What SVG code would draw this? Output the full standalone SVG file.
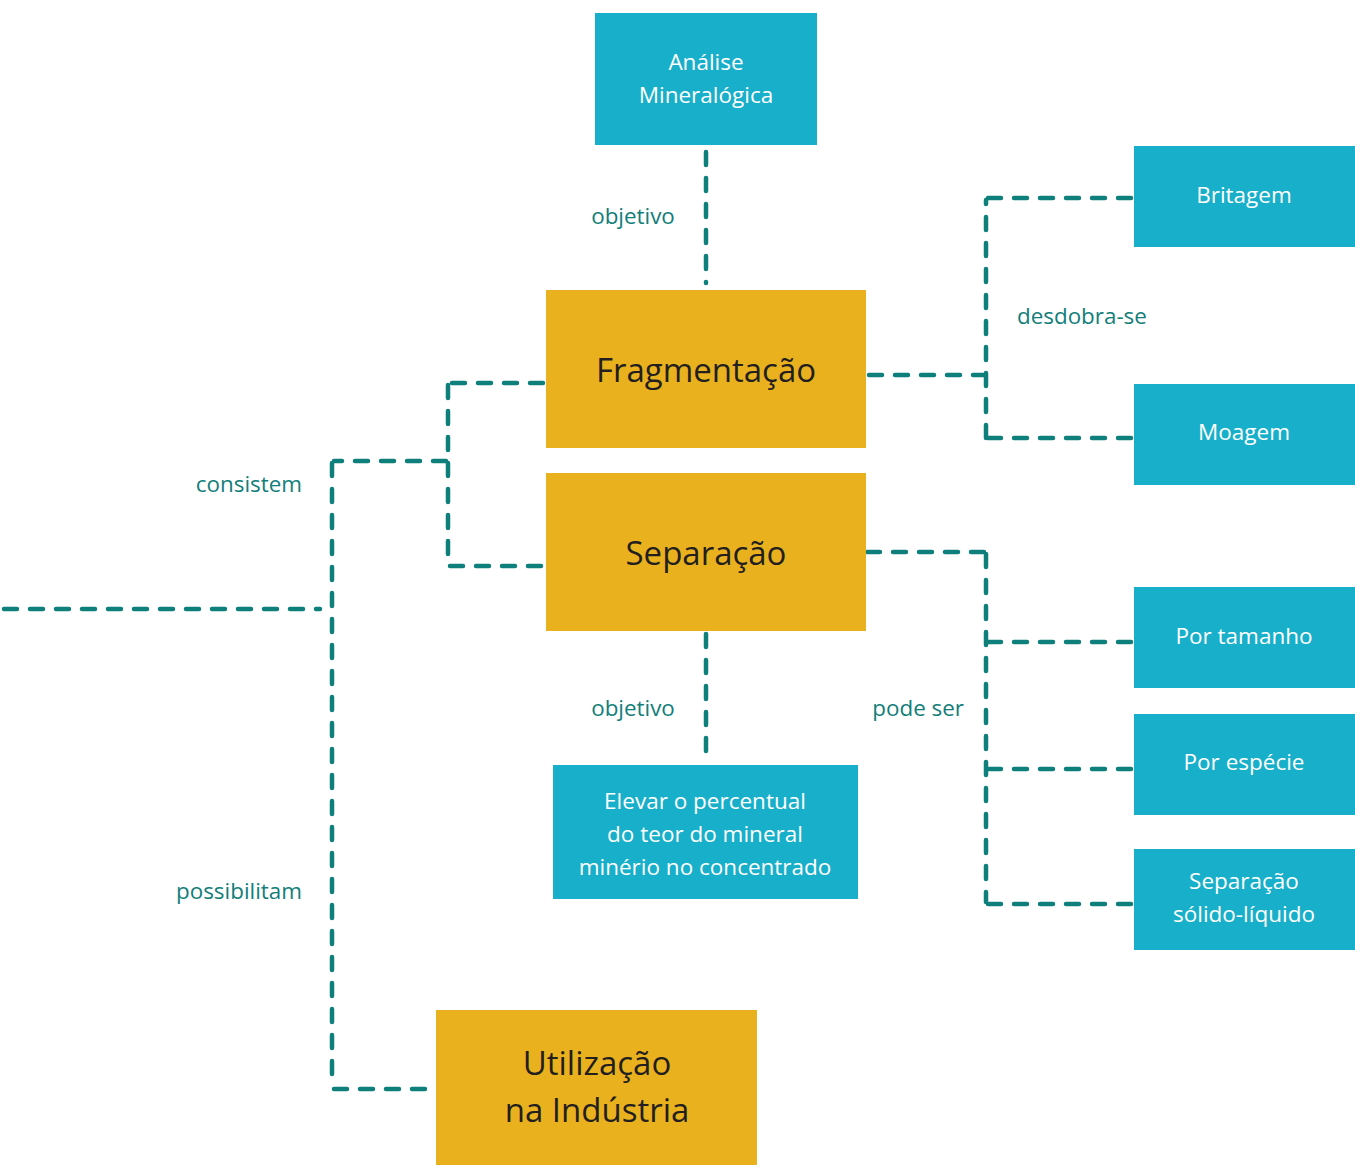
<svg xmlns="http://www.w3.org/2000/svg" width="1355" height="1165" viewBox="0 0 1355 1165">
<style>
.b{fill:#17afc9}
.g{fill:#eab11f}
.tw{font-family:"Open Sans","Noto Sans",sans-serif;font-size:22.5px;fill:#ffffff;text-anchor:middle;dominant-baseline:central}
.tk{font-family:"Open Sans","Noto Sans",sans-serif;font-size:33px;fill:#231f20;text-anchor:middle;dominant-baseline:central}
.lb{font-family:"Open Sans","Noto Sans",sans-serif;font-size:22.4px;fill:#127e7a;dominant-baseline:central}
.c{fill:none;stroke:#0e7f7a;stroke-width:4.5;stroke-linecap:round;stroke-dasharray:13 13}
</style>
<rect width="1355" height="1165" fill="#ffffff"/>
<g id="connectors">
<path class="c" d="M706,152 V283"/>
<path class="c" d="M869,375 H984"/>
<path class="c" d="M986,438 V200"/>
<path class="c" d="M988,198 H1132"/>
<path class="c" d="M988,438 H1132"/>
<path class="c" d="M543,383 H450 M448,385 V564 M450,566 H543"/>
<path class="c" d="M446,461 H334 M332,463 V1087 M334,1089 H434"/>
<path class="c" d="M4,609 H320"/>
<path class="c" d="M867,552 H984 M986,554 V902"/>
<path class="c" d="M988,642 H1132 M988,769 H1132 M988,904 H1132"/>
<path class="c" d="M706,634 V762"/>
</g>
<g id="labels">
<text class="lb" x="633" y="215" text-anchor="middle">objetivo</text>
<text class="lb" x="1017" y="315">desdobra-se</text>
<text class="lb" x="302" y="483" text-anchor="end">consistem</text>
<text class="lb" x="302" y="890" text-anchor="end">possibilitam</text>
<text class="lb" x="633" y="707" text-anchor="middle">objetivo</text>
<text class="lb" x="964" y="707" text-anchor="end">pode ser</text>
</g>
<g id="analise"><rect class="b" x="595" y="13" width="222" height="132"/><text class="tw" x="706" y="61">Análise</text><text class="tw" x="706" y="94">Mineralógica</text></g>
<g id="fragmentacao"><rect class="g" x="546" y="290" width="320" height="158"/><text class="tk" x="706" y="369">Fragmentação</text></g>
<g id="separacao"><rect class="g" x="546" y="473" width="320" height="158"/><text class="tk" x="706" y="552">Separação</text></g>
<g id="britagem"><rect class="b" x="1134" y="146" width="221" height="101"/><text class="tw" x="1244" y="194">Britagem</text></g>
<g id="moagem"><rect class="b" x="1134" y="384" width="221" height="101"/><text class="tw" x="1244" y="431">Moagem</text></g>
<g id="portamanho"><rect class="b" x="1134" y="587" width="221" height="101"/><text class="tw" x="1244" y="635">Por tamanho</text></g>
<g id="porespecie"><rect class="b" x="1134" y="714" width="221" height="101"/><text class="tw" x="1244" y="761">Por espécie</text></g>
<g id="solidoliquido"><rect class="b" x="1134" y="849" width="221" height="101"/><text class="tw" x="1244" y="880">Separação</text><text class="tw" x="1244" y="913">sólido-líquido</text></g>
<g id="elevar"><rect class="b" x="553" y="765" width="305" height="134"/><text class="tw" x="705" y="800">Elevar o percentual</text><text class="tw" x="705" y="833">do teor do mineral</text><text class="tw" x="705" y="866">minério no concentrado</text></g>
<g id="utilizacao"><rect class="g" x="436" y="1010" width="321" height="155"/><text class="tk" x="597" y="1062">Utilização</text><text class="tk" x="597" y="1109">na Indústria</text></g>
</svg>
